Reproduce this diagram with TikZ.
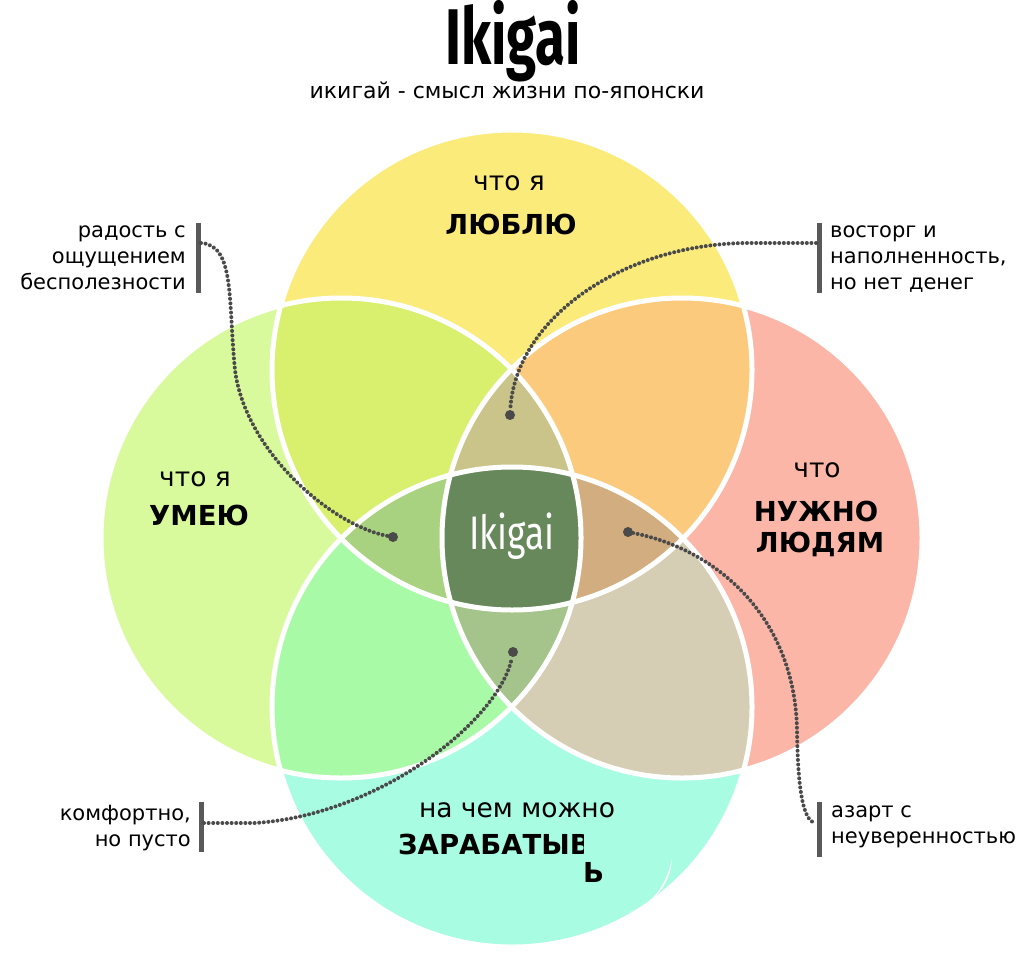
\documentclass[tikz,border=0pt]{standalone}
\usepackage{fontspec}
\setmainfont{DejaVu Sans}
\newfontfamily\titlefont{Fira Sans}
\usetikzlibrary{positioning}

\definecolor{cTop}{HTML}{FBEB7B}
\definecolor{cLeft}{HTML}{D9FA9C}
\definecolor{cRight}{HTML}{FBB6A7}
\definecolor{cBottom}{HTML}{A7FCE2}
\definecolor{cTL}{HTML}{D9EF6E}
\definecolor{cTR}{HTML}{FCCA7D}
\definecolor{cLB}{HTML}{A9FAA7}
\definecolor{cRB}{HTML}{D6CEB4}
\definecolor{cTLR}{HTML}{CAC38A}
\definecolor{cTLB}{HTML}{A8D27F}
\definecolor{cTRB}{HTML}{D2AD7F}
\definecolor{cLRB}{HTML}{A5C48C}
\definecolor{cAll}{HTML}{67885B}
\definecolor{dotgray}{HTML}{4A4A4A}
\definecolor{bargray}{HTML}{595959}

\newcommand{\rr}{240}

\begin{document}
\begin{tikzpicture}[x=1pt,y=-1pt,
	ring/.style={draw=white,line width=5pt},
	dotline/.style={draw=dotgray,line width=4pt,line cap=round,dash pattern=on 0pt off 4.6pt},
	enddot/.style={circle,fill=dotgray,inner sep=0pt,minimum size=10pt},
	bar/.style={draw=bargray,line width=5pt},
	note/.style={font=\fontsize{21}{26}\selectfont,inner sep=0pt},
	small/.style={font=\fontsize{26.5}{30}\selectfont,inner sep=0pt},
	big/.style={font=\fontsize{27.5}{33}\selectfont\bfseries,inner sep=0pt}]
	\useasboundingbox (0,0) rectangle (1024,968);
	\coordinate (T) at (512,370);
	\coordinate (L) at (341,538);
	\coordinate (R) at (682,538);
	\coordinate (B) at (512,707);
	% single circles
	\fill[cTop] (T) circle (\rr);
	\fill[cLeft] (L) circle (\rr);
	\fill[cRight] (R) circle (\rr);
	\fill[cBottom] (B) circle (\rr);
	% overlaps
	\begin{scope}\clip (T) circle (\rr); \fill[cTL] (L) circle (\rr); \fill[cTR] (R) circle (\rr);\end{scope}
	\begin{scope}\clip (B) circle (\rr); \fill[cLB] (L) circle (\rr); \fill[cRB] (R) circle (\rr);\end{scope}
	\begin{scope}\clip (T) circle (\rr); \clip (L) circle (\rr); \fill[cTLR] (R) circle (\rr); \fill[cTLB] (B) circle (\rr);\end{scope}
	\begin{scope}\clip (T) circle (\rr); \clip (R) circle (\rr); \fill[cTRB] (B) circle (\rr);\end{scope}
	\begin{scope}\clip (L) circle (\rr); \clip (R) circle (\rr); \fill[cLRB] (B) circle (\rr);\end{scope}
	\begin{scope}\clip (T) circle (\rr); \clip (L) circle (\rr); \clip (R) circle (\rr); \fill[cAll] (B) circle (\rr);\end{scope}
	\foreach \c in {T,L,R,B} \draw[ring] (\c) circle (\rr);
	\fill[white] (627,913) .. controls (650,905) and (665,890) .. (672,859) .. controls (670,885) and (655,903) .. (627,913) -- cycle;

	% titles
	\node[anchor=base,inner sep=0pt] (title) at (513,65) {\scalebox{0.69}[1]{\titlefont\bfseries\fontsize{79}{84}\selectfont Ikigai}};
	\node[anchor=base,inner sep=0pt,font=\fontsize{22}{26}\selectfont] (subtitle) at (507,99) {икигай - смысл жизни по-японски};
	\node[anchor=base,inner sep=0pt,white] (center) at (512,549) {\scalebox{0.75}[1]{\titlefont\fontsize{47}{50}\selectfont Ikigai}};

	% circle labels
	\node[small,anchor=base] (loveA) at (509,191) {что я};
	\node[big,anchor=base] (loveB) at (511,234) {ЛЮБЛЮ};
	\node[small,anchor=base] (goodA) at (195,486) {что я};
	\node[big,anchor=base] (goodB) at (199,525) {УМЕЮ};
	\node[small,anchor=base] (needA) at (817,477) {что};
	\node[big,anchor=base] (needB) at (816,521) {НУЖНО};
	\node[big,anchor=base] (needC) at (820,552) {ЛЮДЯМ};
	\node[small,anchor=base] (paidA) at (517,817) {на чем можно};
	\begin{scope}
		\clip (380,815) rectangle (583,870);
		\node[big,anchor=base west] (paidB) at (398,854) {ЗАРАБАТЫВ};
	\end{scope}
	\node[big,anchor=base west] (paidC) at (583,882) {Ь};

	% side notes
	\node[note,anchor=base east] (uselessA) at (186,237) {радость с};
	\node[note,anchor=base east] (uselessB) at (186,263) {ощущением};
	\node[note,anchor=base east] (uselessC) at (186,289) {бесполезности};
	\node[note,anchor=base west] (delightA) at (830,237) {восторг и};
	\node[note,anchor=base west] (delightB) at (830,263) {наполненность,};
	\node[note,anchor=base west] (delightC) at (830,289) {но нет денег};
	\node[note,anchor=base east] (comfortA) at (191,820) {комфортно,};
	\node[note,anchor=base east] (comfortB) at (191,846) {но пусто};
	\node[note,anchor=base west] (excitA) at (831,817) {азарт с};
	\node[note,anchor=base west] (excitB) at (831,843) {неуверенностью};

	% bars
	\draw[bar] (198,223) -- (198,293);
	\draw[bar] (819,223) -- (819,293);
	\draw[bar] (201,802) -- (201,852);
	\draw[bar] (819,802) -- (819,857);
	\coordinate (barA) at (201,243);
	\coordinate (barB) at (816,243);
	\coordinate (barC) at (204,823);
	\coordinate (barD) at (816,823);

	% pointers
	\node[enddot] (dotA) at (393,537) {};
	\node[enddot] (dotB) at (510,415) {};
	\node[enddot] (dotC) at (513,652) {};
	\node[enddot] (dotD) at (628,532) {};
	\draw[dotline] (barA) .. controls (235,245) and (228,300) .. (235,370) .. controls (245,450) and (330,525) .. (dotA);
	\draw[dotline] (barB) -- (745,243) .. controls (620,245) and (515,320) .. (dotB);
	\draw[dotline] (barC) -- (255,823) .. controls (380,815) and (500,720) .. (dotC);
	\draw[dotline] (dotD) .. controls (720,550) and (795,620) .. (797,730) .. controls (798,800) and (805,822) .. (barD);
\end{tikzpicture}
\end{document}
